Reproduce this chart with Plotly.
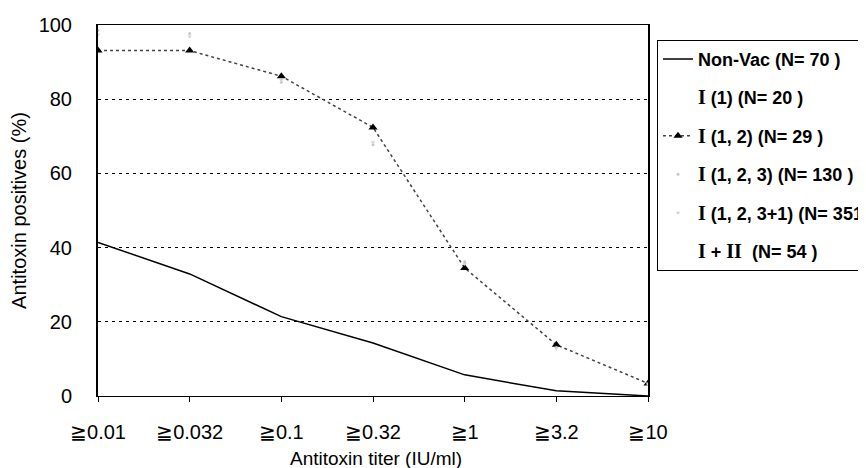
import plotly.graph_objects as go

categories = ["≧0.01", "≧0.032", "≧0.1", "≧0.32", "≧1", "≧3.2", "≧10"]
y_ticks = [0, 20, 40, 60, 80, 100]

non_vac = [41.4, 32.9, 21.4, 14.3, 5.7, 1.4, 0.0]
i_1 = [100.0, 100.0, 90.0, 75.0, 40.0, 15.0, 5.0]
i_12 = [93.1, 93.1, 86.2, 72.4, 34.5, 13.8, 3.4]
i_123 = [98.5, 97.7, 84.6, 67.7, 36.2, 13.1, 3.1]
i_1231 = [97.4, 96.9, 85.2, 68.4, 35.6, 12.8, 3.4]
i_plus_ii = [98.1, 98.1, 88.9, 74.1, 38.9, 14.8, 3.7]

R = "<span style='font-family:Liberation Serif;font-size:20px'><b>{}</b></span>"
names = [
    "Non-Vac (N= 70 )",
    R.format("I") + " (1) (N= 20 )",
    R.format("I") + " (1, 2) (N= 29 )",
    R.format("I") + " (1, 2, 3) (N= 130 )",
    R.format("I") + " (1, 2, 3+1) (N= 351 )",
    R.format("I") + " + " + R.format("II") + "  (N= 54 )",
]

x = list(range(len(categories)))
fig = go.Figure()

fig.add_trace(go.Scatter(x=x, y=non_vac, name=names[0], mode="lines",
                         line=dict(color="black", width=1.5), legendgroup="a"))
fig.add_trace(go.Scatter(x=x, y=i_1, name=names[1], mode="lines",
                         line=dict(color="rgba(0,0,0,0.0)", width=1), legendgroup="b"))
fig.add_trace(go.Scatter(x=x, y=i_12, name=names[2], mode="lines+markers",
                         line=dict(color="#444444", width=1.5, dash="dot"),
                         marker=dict(symbol="triangle-up", size=8, color="black"),
                         legendgroup="c"))
fig.add_trace(go.Scatter(x=x, y=i_123, name=names[3], mode="markers",
                         marker=dict(symbol="circle", size=3, color="#c8c8c8"),
                         legendgroup="d"))
fig.add_trace(go.Scatter(x=x, y=i_1231, name=names[4], mode="markers",
                         marker=dict(symbol="triangle-down", size=4, color="#d4d4d4"),
                         legendgroup="e"))
fig.add_trace(go.Scatter(x=x, y=i_plus_ii, name=names[5], mode="lines",
                         line=dict(color="rgba(0,0,0,0.0)", width=1), legendgroup="f"))

fig.update_layout(
    width=866, height=468,
    paper_bgcolor="white", plot_bgcolor="white",
    margin=dict(l=90, r=226, t=17, b=80, autoexpand=False),
    font=dict(family="Liberation Sans, Arial, sans-serif", size=19, color="black"),
    showlegend=True,
    legend=dict(
        x=1.0164, xanchor="left", y=0.96, yanchor="top",
        bordercolor="black", borderwidth=1, bgcolor="white",
        font=dict(family="Liberation Sans, Arial, sans-serif", size=18, color="black", weight="bold"),
        traceorder="grouped", tracegroupgap=12,
    ),
    xaxis=dict(
        range=[0, 6], tickmode="array", tickvals=x, ticktext=categories,
        showline=True, linecolor="black", linewidth=1, mirror=True,
        ticks="outside", ticklen=5, tickcolor="black",
        showgrid=False, zeroline=False, ticklabelstandoff=13,
        tickfont=dict(size=20),
    ),
    yaxis=dict(
        range=[0, 100], tickmode="array", tickvals=y_ticks,
        showline=True, linecolor="black", linewidth=2, mirror=True,
        showgrid=True, gridcolor="black", gridwidth=1, griddash="3px,4px",
        zeroline=False, ticks="", ticklabelstandoff=20,
        title=dict(text="Antitoxin positives (%)", font=dict(size=20), standoff=8),
        tickfont=dict(size=20),
    ),
    annotations=[dict(
        text="Antitoxin titer (IU/ml)", xref="paper", yref="paper",
        x=0.505, y=-(450 - 388) / 371, xanchor="center", yanchor="middle",
        showarrow=False, font=dict(size=19),
    )],
)

fig.write_html("out.html")
